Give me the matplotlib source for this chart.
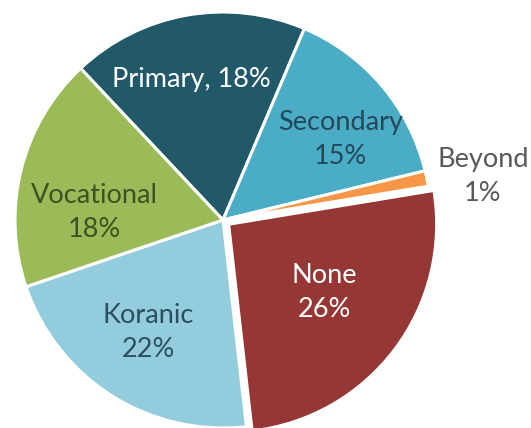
import numpy as np
import matplotlib
matplotlib.use("Agg")
import matplotlib.pyplot as plt

# -------------------- data --------------------
categories = ['Primary', 'Secondary', 'Beyond', 'None', 'Koranic', 'Vocational']
shares = [18.4, 14.8, 1.2, 25.8, 21.6, 18.2]
pct_labels = ['18%', '15%', '1%', '26%', '22%', '18%']

colors = ['#215968', '#4bacc6', '#f79646', '#953735', '#93cddd', '#9bbb59']
text_colors = ['white', '#23485a', '#595959', 'white', '#2b4f5e', '#3b5323']
explode = [0, 0, 0, 0.034, 0, 0]

# label placement: distance from centre (radius units) and angle shift (deg)
label_r = [0.695, 0.685, 1.267, 0.566, 0.652, 0.621]
label_shift = [2.7, -6.1, -2.1, 1.8, -1.2, 10.5]

# -------------------- figure --------------------
fig = plt.figure(figsize=(5.31, 4.28), dpi=100)
ax = fig.add_axes([0, 0, 1, 1])

wedges, _ = ax.pie(shares, colors=colors, explode=explode, startangle=133.2,
                   counterclock=False, radius=1,
                   wedgeprops=dict(edgecolor='white', linewidth=2.2))

for i, w in enumerate(wedges):
    ang = np.deg2rad((w.theta1 + w.theta2) / 2 + label_shift[i])
    cx, cy = w.center
    x = cx + label_r[i] * np.cos(ang)
    y = cy + label_r[i] * np.sin(ang)
    if categories[i] == 'Primary':
        txt = categories[i] + ', ' + pct_labels[i]
    else:
        txt = categories[i] + '\n' + pct_labels[i]
    ax.text(x, y, txt, ha='center', va='center', fontsize=19.5,
            family='Lato', color=text_colors[i], linespacing=1.45)

# pixel mapping: centre at (223, 220) from top-left, radius 208 px
r_px = 208
ax.set_xlim(-223 / r_px, (531 - 223) / r_px)
ax.set_ylim((220 - 428) / r_px, 220 / r_px)
ax.set_aspect('auto')
ax.axis('off')

fig.savefig('out.png', dpi=100)
